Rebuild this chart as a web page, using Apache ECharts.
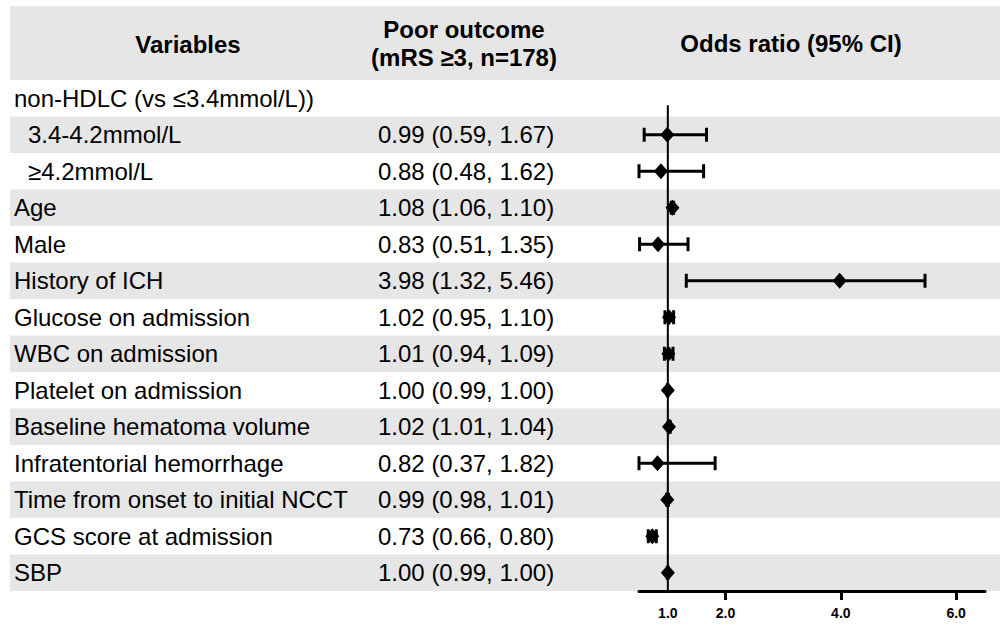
<!DOCTYPE html>
<html>
<head>
<meta charset="utf-8">
<script src="https://cdn.jsdelivr.net/npm/echarts@6/dist/echarts.min.js"></script>
<style>
  html, body { margin: 0; padding: 0; background: #fff; }
  #main { width: 1000px; height: 625px; }
</style>
</head>
<body>
<div id="main"></div>
<script>
// rows of the table, top to bottom
const variables = [
  'non-HDLC (vs ≤3.4mmol/L))', '3.4-4.2mmol/L', '≥4.2mmol/L', 'Age', 'Male',
  'History of ICH', 'Glucose on admission', 'WBC on admission', 'Platelet on admission',
  'Baseline hematoma volume', 'Infratentorial hemorrhage', 'Time from onset to initial NCCT',
  'GCS score at admission', 'SBP'
];
const indented = [false, true, true, false, false, false, false, false, false, false, false, false, false, false];
const oddsRatio = [null, 0.99, 0.88, 1.08, 0.83, 3.98, 1.02, 1.01, 1.00, 1.02, 0.82, 0.99, 0.73, 1.00];
const ciLow  = [null, 0.59, 0.48, 1.06, 0.51, 1.32, 0.95, 0.94, 0.99, 1.01, 0.37, 0.98, 0.66, 0.99];
const ciHigh = [null, 1.67, 1.62, 1.10, 1.35, 5.46, 1.10, 1.09, 1.00, 1.04, 1.82, 1.01, 0.80, 1.00];
const tickLabels = [1, 2, 4, 6];
const tickMarks = [2, 4, 6];

const font = '"Liberation Sans", Arial, sans-serif';
const band = '#e6e6e6';

// text for the middle column
const estText = oddsRatio.map((v, i) =>
  v == null ? '' : v.toFixed(2) + ' (' + ciLow[i].toFixed(2) + ', ' + ciHigh[i].toFixed(2) + ')'
);

const chart = echarts.init(document.getElementById('main'), null, { renderer: 'svg' });

const hiddenX = (gi) => ({
  gridIndex: gi, type: 'value', min: 0, max: 1, show: false
});

let option = {
  animation: false,
  backgroundColor: '#fff',
  textStyle: { fontFamily: font },
  graphic: [
    { type: 'rect', shape: { x: 10, y: 6, width: 990, height: 74 }, style: { fill: band }, z: -10 },
    { type: 'text', x: 188, y: 44, style: { text: 'Variables', font: 'bold 24px ' + font, fill: '#000', align: 'center', verticalAlign: 'middle' } },
    { type: 'text', x: 464, y: 43, style: { text: 'Poor outcome\n(mRS ≥3, n=178)', font: 'bold 24px ' + font, lineHeight: 28, fill: '#000', align: 'center', verticalAlign: 'middle' } },
    { type: 'text', x: 791, y: 43, style: { text: 'Odds ratio (95% CI)', font: 'bold 24px ' + font, fill: '#000', align: 'center', verticalAlign: 'middle' } }
  ],
  grid: [
    { left: 10, right: 0, top: 80, bottom: 34 },     // background bands + variable names
    { left: 370, width: 234, top: 80, bottom: 34 },  // estimates column
    { left: 639, right: 15, top: 80, bottom: 34 }    // forest plot
  ],
  xAxis: [
    hiddenX(0),
    hiddenX(1),
    {
      gridIndex: 2, type: 'value', min: 0.5, max: 6.5,
      splitLine: { show: false },
      axisLine: { show: true, lineStyle: { color: '#000', width: 3 } },
      axisTick: { show: true, customValues: tickMarks, length: 9, lineStyle: { color: '#000', width: 3 } },
      axisLabel: {
        customValues: tickLabels, margin: 15,
        formatter: v => v.toFixed(1),
        color: '#000', fontWeight: 'bold', fontSize: 14, fontFamily: font
      }
    }
  ],
  yAxis: [
    {
      gridIndex: 0, type: 'category', inverse: true, data: variables,
      axisLine: { show: false }, axisTick: { show: false },
      splitArea: { show: true, areaStyle: { color: ['#fff', band] } },
      axisLabel: {
        align: 'left', margin: -4, color: '#000', fontSize: 24, fontFamily: font,
        formatter: (v, i) => indented[i] ? '{ind|' + v + '}' : v,
        rich: { ind: { padding: [0, 0, 0, 14], fontSize: 24, color: '#000', fontFamily: font } }
      }
    },
    {
      gridIndex: 1, type: 'category', inverse: true, data: estText,
      axisLine: { show: false }, axisTick: { show: false }, splitArea: { show: false },
      axisLabel: { align: 'left', margin: -8, color: '#000', fontSize: 24, fontFamily: font, interval: 0 }
    },
    {
      gridIndex: 2, type: 'category', inverse: true, data: variables,
      axisLine: { show: false }, axisTick: { show: false }, axisLabel: { show: false },
      splitArea: { show: false }
    }
  ],
  series: [
    {
      // reference line at OR = 1
      type: 'custom', xAxisIndex: 2, yAxisIndex: 2,
      data: [[1]],
      renderItem: (params, api) => {
        const top = api.coord([api.value(0), 0]);
        const cs = params.coordSys;
        return {
          type: 'line',
          shape: { x1: top[0], y1: top[1] + 7, x2: top[0], y2: cs.y + cs.height },
          style: { stroke: '#000', lineWidth: 2 }
        };
      },
      z: 2
    },
    {
      // confidence intervals
      type: 'custom', xAxisIndex: 2, yAxisIndex: 2, clip: false,
      data: oddsRatio.map((v, i) => [ciLow[i], ciHigh[i], i]).filter(d => d[0] != null),
      renderItem: (params, api) => {
        const cs = params.coordSys;
        const idx = api.value(2);
        const a = api.coord([api.value(0), idx]);
        const b = api.coord([api.value(1), idx]);
        const x1 = Math.max(a[0], cs.x);
        const x2 = Math.min(b[0], cs.x + cs.width);
        const y = a[1];
        const st = { stroke: '#000', lineWidth: 3 };
        return {
          type: 'group',
          children: [
            { type: 'line', shape: { x1: x1, y1: y, x2: x2, y2: y }, style: st },
            { type: 'line', shape: { x1: x1, y1: y - 7, x2: x1, y2: y + 7 }, style: st },
            { type: 'line', shape: { x1: x2, y1: y - 7, x2: x2, y2: y + 7 }, style: st }
          ]
        };
      },
      z: 3
    },
    {
      type: 'scatter', xAxisIndex: 2, yAxisIndex: 2,
      symbol: 'diamond', symbolSize: [14, 16],
      itemStyle: { color: '#000', opacity: 1 },
      data: oddsRatio.map((v, i) => [v, i]).filter(d => d[0] != null),
      z: 4
    }
  ]
};

chart.setOption(option);
</script>
</body>
</html>
